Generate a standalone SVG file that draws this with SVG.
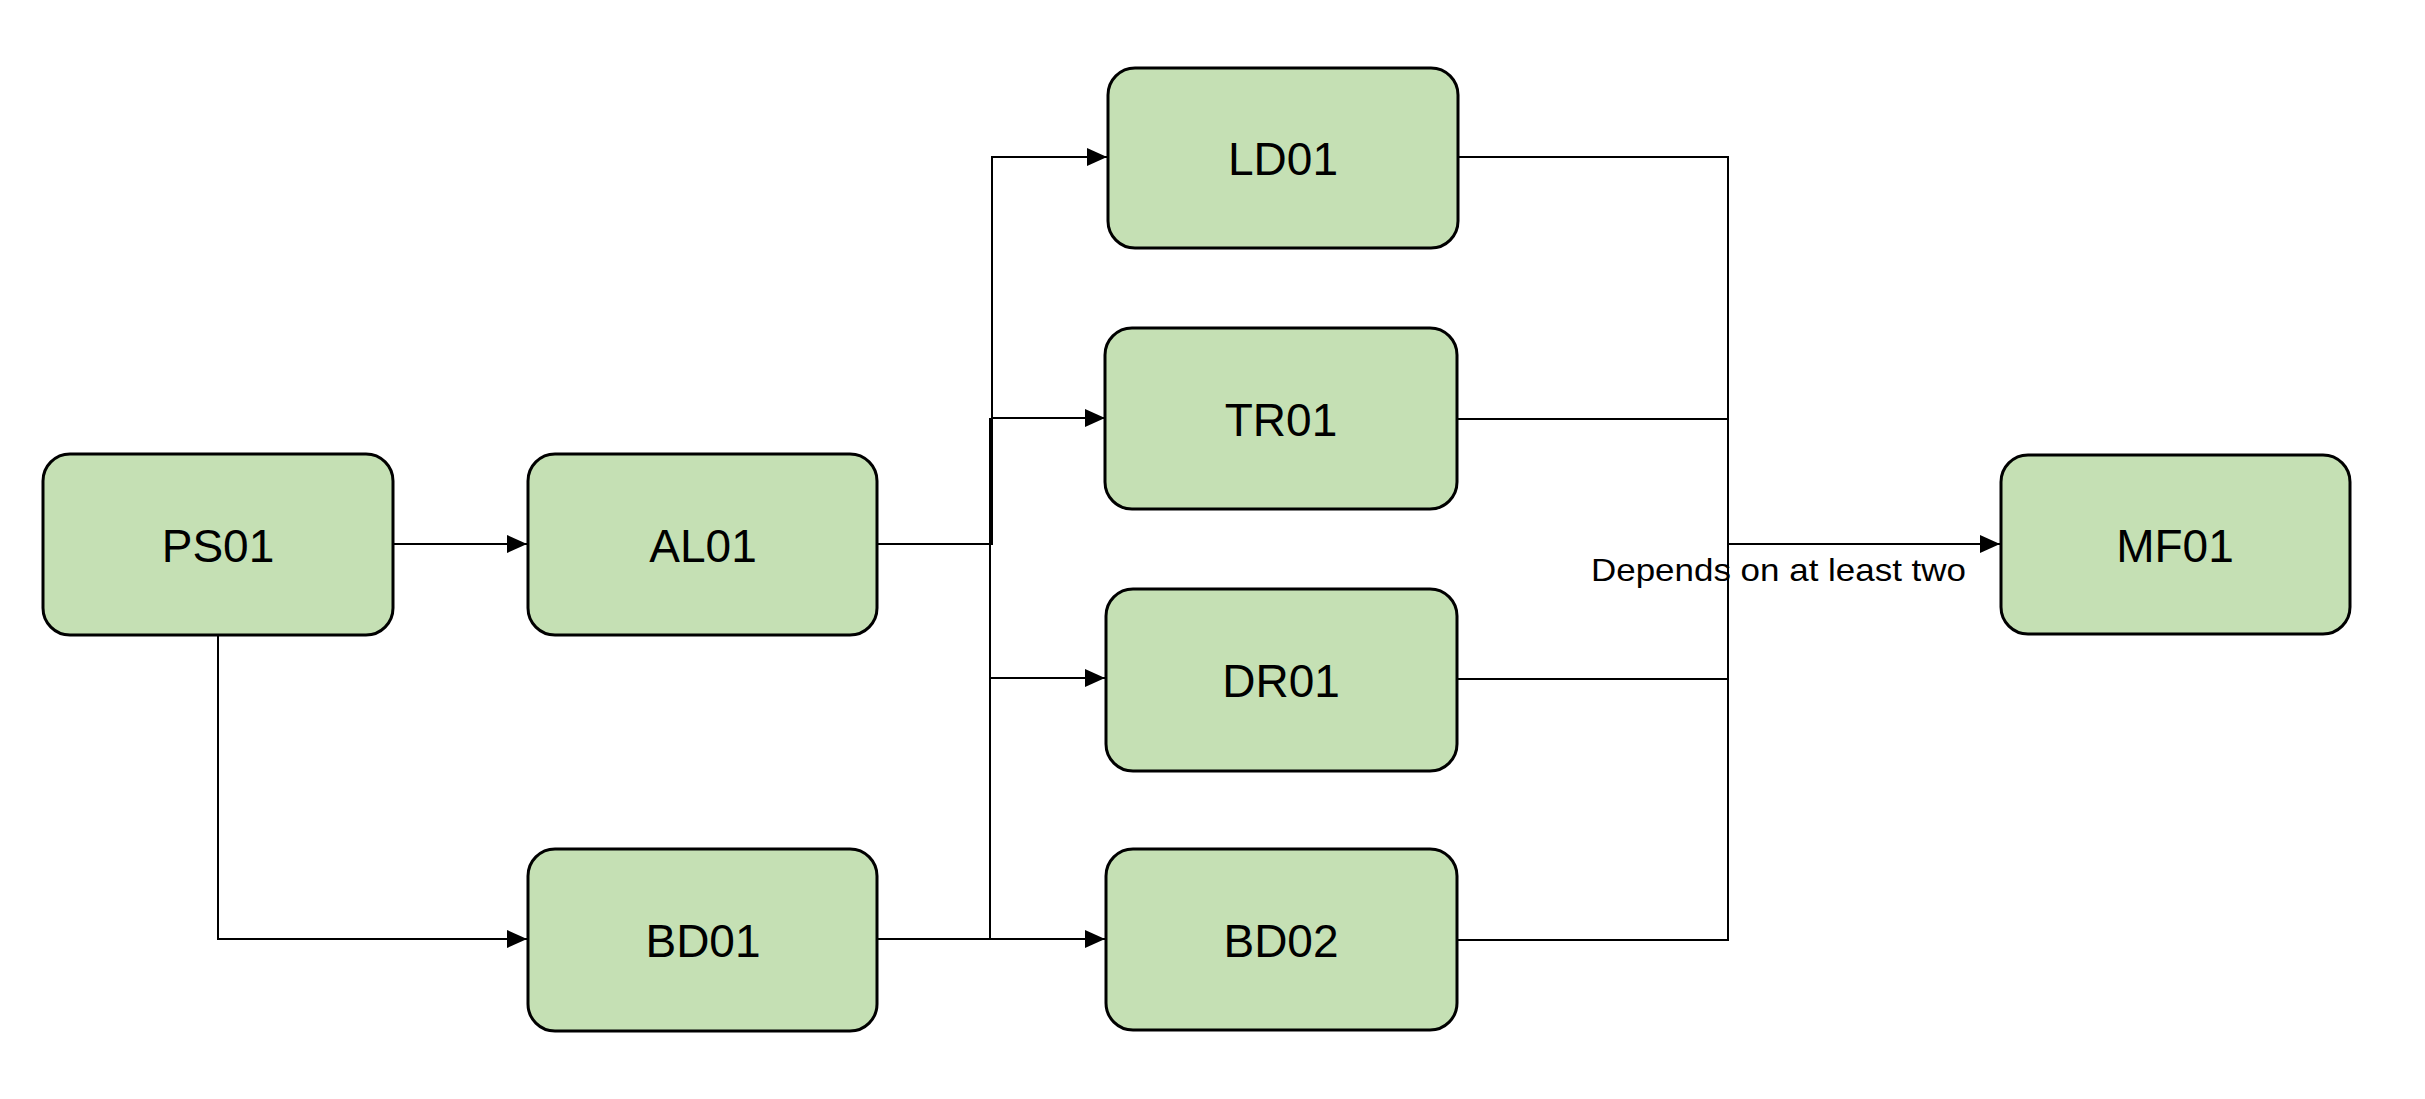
<svg xmlns="http://www.w3.org/2000/svg" width="2425" height="1099" viewBox="0 0 2425 1099">
<style>
.node rect{fill:#C5E0B4;stroke:#000;stroke-width:3}
.node text{font-family:"Liberation Sans",Arial,sans-serif;font-size:46px;fill:#000;text-anchor:middle}
.conn path{fill:none;stroke:#000;stroke-width:2}
.lbl{font-family:"Liberation Sans",Arial,sans-serif;font-size:32px;fill:#000}
</style>
<defs>
<marker id="arr" viewBox="0 0 20 18" refX="20" refY="9" markerWidth="20" markerHeight="18" markerUnits="userSpaceOnUse" orient="auto">
<path d="M0,0 L20,9 L0,18 Z" fill="#000"/>
</marker>
</defs>
<rect width="2425" height="1099" fill="#fff"/>
<g id="connectors" class="conn">
<path d="M393,544 H527" marker-end="url(#arr)"/>
<path d="M218,635 V939 H527" marker-end="url(#arr)"/>
<path d="M877,544 H992 V157 H1107" marker-end="url(#arr)"/>
<path d="M992,418 H1105" marker-end="url(#arr)"/>
<path d="M877,939 H990 V418"/>
<path d="M990,678 H1105" marker-end="url(#arr)"/>
<path d="M990,939 H1105" marker-end="url(#arr)"/>
<path d="M1458,157 H1728 V940 H1457"/>
<path d="M1457,419 H1728"/>
<path d="M1457,679 H1728"/>
<path d="M1728,544 H2000" marker-end="url(#arr)"/>
<text class="lbl" x="1591" y="581" textLength="375" lengthAdjust="spacingAndGlyphs">Depends on at least two</text>
</g>
<g id="PS01" class="node"><rect x="43" y="454" width="350" height="181" rx="27"/><text x="218" y="562">PS01</text></g>
<g id="AL01" class="node"><rect x="528" y="454" width="349" height="181" rx="27"/><text x="703" y="562">AL01</text></g>
<g id="BD01" class="node"><rect x="528" y="849" width="349" height="182" rx="27"/><text x="703" y="957">BD01</text></g>
<g id="LD01" class="node"><rect x="1108" y="68" width="350" height="180" rx="27"/><text x="1283" y="175">LD01</text></g>
<g id="TR01" class="node"><rect x="1105" y="328" width="352" height="181" rx="27"/><text x="1281" y="436">TR01</text></g>
<g id="DR01" class="node"><rect x="1106" y="589" width="351" height="182" rx="27"/><text x="1281" y="697">DR01</text></g>
<g id="BD02" class="node"><rect x="1106" y="849" width="351" height="181" rx="27"/><text x="1281" y="957">BD02</text></g>
<g id="MF01" class="node"><rect x="2001" y="455" width="349" height="179" rx="27"/><text x="2175" y="562">MF01</text></g>
</svg>
